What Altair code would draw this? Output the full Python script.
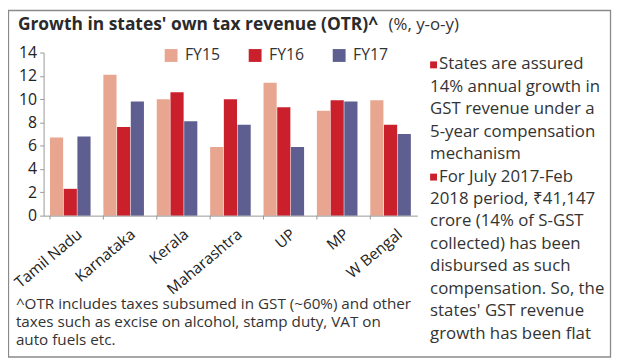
import altair as alt
import pandas as pd

states = ["Tamil Nadu", "Karnataka", "Kerala", "Maharashtra", "UP", "MP", "W Bengal"]
years = ["FY15", "FY16", "FY17"]
fy15 = [6.7, 12.1, 10.0, 5.9, 11.4, 9.0, 9.9]
fy16 = [2.3, 7.6, 10.6, 10.0, 9.3, 9.9, 7.8]
fy17 = [6.8, 9.8, 8.1, 7.8, 5.9, 9.8, 7.0]
colors = ["#E8A690", "#C9202C", "#5E5E90"]
y_ticks = [0, 2, 4, 6, 8, 10, 12, 14]

title_main = "Growth in states' own tax revenue (OTR)^"
title_unit = "(%, y-o-y)"
note1_first = "States are assured"
note1_rest = ["14% annual growth in", "GST revenue under a", "5-year compensation", "mechanism"]
note2_first = "For July 2017-Feb"
note2_rest = ["2018 period, ₹41,147", "crore (14% of S-GST", "collected) has been",
              "disbursed as such", "compensation. So, the", "states' GST revenue",
              "growth has been flat"]
footnote = ["^OTR includes taxes subsumed in GST (~60%) and other",
            "taxes such as excise on alcohol, stamp duty, VAT on",
            "auto fuels etc."]

rows = []
for yr, vals in zip(years, [fy15, fy16, fy17]):
    for s, v in zip(states, vals):
        rows.append({"state": s, "year": yr, "value": v})
df = pd.DataFrame(rows)

FONT = "Open Sans"
TXT = "#333333"
W, H = 378, 165

xscale = alt.Scale(paddingInner=0.24, paddingOuter=0.12)

bars = alt.Chart(df).mark_bar().encode(
    x=alt.X("state:N", sort=states, scale=xscale, title=None,
            axis=alt.Axis(labelAngle=320, labelFontSize=15.5, labelColor="#222222",
                          ticks=False, domainColor="#999999", labelPadding=11,
                          labelOffset=5, labelFont=FONT, zindex=1)),
    xOffset=alt.XOffset("year:N", sort=years, scale=alt.Scale(paddingInner=0.04)),
    y=alt.Y("value:Q", scale=alt.Scale(domain=[0, 14], nice=False), title=None,
            axis=alt.Axis(values=y_ticks, grid=False, tickSize=4, labelPadding=3,
                          labelFontSize=16, labelColor="#222222", domainColor="#999999",
                          tickColor="#999999", labelFont=FONT, zindex=1)),
    color=alt.Color("year:N", sort=years, scale=alt.Scale(domain=years, range=colors),
                    legend=alt.Legend(orient="none", legendX=121, legendY=-5,
                                      direction="horizontal", title=None,
                                      symbolType="square", symbolSize=169,
                                      symbolStrokeWidth=0, labelFontSize=16,
                                      labelFont=FONT, labelColor="#333333",
                                      labelOffset=6, columnPadding=27)),
)

xticks = alt.Chart(pd.DataFrame({"state": states})).mark_rule(color="#999999").encode(
    x=alt.X("state:N", sort=states, bandPosition=0),
    y=alt.value(H), y2=alt.value(H + 4),
)

one = pd.DataFrame({"a": [0]})

def txt(text, x, y, size, weight="normal", color=TXT, lh=None):
    kw = dict(font=FONT, fontSize=size, fontWeight=weight, color=color,
              align="left", baseline="alphabetic")
    if lh is not None:
        kw.update(lineBreak="\n", lineHeight=lh)
    return alt.Chart(one).mark_text(**kw).encode(
        x=alt.value(x), y=alt.value(y), text=alt.value(text))

LH = 22.7
layers = [
    alt.Chart(one).mark_rect(filled=False, stroke="#8a8a8a", strokeWidth=1.3).encode(
        x=alt.value(-35.5), x2=alt.value(573.5), y=alt.value(-42.5), y2=alt.value(308)),
    bars,
    xticks,
    txt(title_main, -26, -23, 17.6, "bold", "#2a2a2a"),
    txt(title_unit, 349, -23, 17),
    txt(note1_first, 400, 17, 17),
    txt("\n".join(note1_rest), 391, 17 + LH, 17, lh=LH),
    txt(note2_first, 400, 17 + 5 * LH, 17),
    txt("\n".join(note2_rest), 391, 17 + 6 * LH, 17, lh=LH),
    alt.Chart(one).mark_square(size=49, color="#C9202C", opacity=1).encode(
        x=alt.value(394.5), y=alt.value(12.5)),
    alt.Chart(one).mark_square(size=49, color="#C9202C", opacity=1).encode(
        x=alt.value(394.5), y=alt.value(12.5 + 5 * LH)),
    txt("\n".join(footnote), -28, 259, 15.4, lh=18.6),
]

chart = alt.layer(*layers).properties(
    width=W, height=H,
    autosize=alt.AutoSizeParams(type="none"),
    padding={"left": 36, "top": 43, "right": 197, "bottom": 144},
    background="white",
).configure_view(stroke=None)

chart.save("out.html", embed_options={"renderer": "svg", "actions": False})
